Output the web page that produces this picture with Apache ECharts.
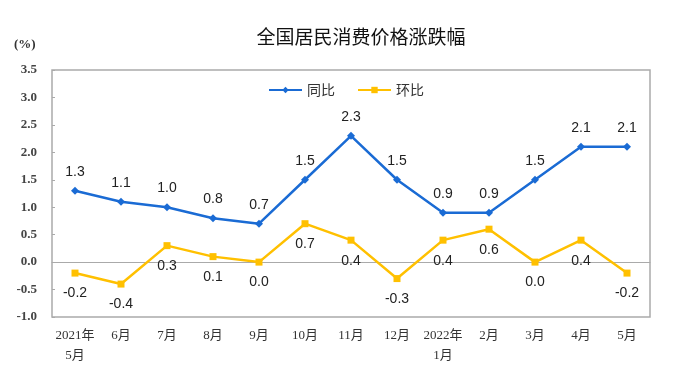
<!DOCTYPE html>
<html><head><meta charset="utf-8">
<script src="https://cdn.jsdelivr.net/npm/echarts@6/dist/echarts.min.js"></script>
<style>html,body{margin:0;padding:0;background:#fff}#c{width:692px;height:384px}</style>
</head><body><div id="c"></div>
<script>
var categories = ['2021年\n5月','6月','7月','8月','9月','10月','11月','12月','2022年\n1月','2月','3月','4月','5月'];
var yoy = [1.3,1.1,1.0,0.8,0.7,1.5,2.3,1.5,0.9,0.9,1.5,2.1,2.1];
var mom = [-0.2,-0.4,0.3,0.1,0.0,0.7,0.4,-0.3,0.4,0.6,0.0,0.4,-0.2];
var yTicks = {min:-1.0, max:3.5, interval:0.5};

var chart = echarts.init(document.getElementById('c'));
var serif = '"Liberation Serif","Noto Sans CJK SC",serif';
chart.setOption({
  animation:false,
  title:{text:'全国居民消费价格涨跌幅',left:356,textAlign:'center',top:22,
    textStyle:{fontSize:19,fontWeight:'normal',color:'#111',fontFamily:'"Noto Sans CJK SC",sans-serif'}},
  graphic:[{type:'text',left:14,top:38,style:{text:'(%)',font:'bold 13px '+serif,fill:'#333'}}],
  legend:{top:78,left:'center',itemWidth:33,itemHeight:8,itemGap:22,
    textStyle:{fontSize:14,color:'#333',fontFamily:'"Noto Sans CJK SC",sans-serif'},
    data:['同比','环比']},
  grid:{left:52,right:42,top:70,bottom:67,show:true,borderColor:'#aaa',borderWidth:1.5},
  xAxis:[{type:'category',data:categories,position:'bottom',
      axisLine:{onZero:false,show:false},axisTick:{show:false},
      axisLabel:{interval:0,margin:9,fontSize:13,lineHeight:20,color:'#333',fontFamily:serif}},
    {type:'category',data:categories,position:'bottom',
      axisLine:{onZero:true,lineStyle:{color:'#aaa',width:1.2}},
      axisTick:{inside:true,length:5,lineStyle:{color:'#aaa'}},axisLabel:{show:false}}],
  yAxis:{type:'value',min:yTicks.min,max:yTicks.max,interval:yTicks.interval,
    axisLine:{show:false},axisTick:{show:true,inside:true,length:3,lineStyle:{color:'#aaa'}},
    splitLine:{show:false},
    axisLabel:{margin:15,fontSize:13,fontWeight:'bold',color:'#444',fontFamily:serif,
      formatter:function(v){return v.toFixed(1);}}},
  series:[
    {name:'同比',type:'line',data:yoy,symbol:'diamond',symbolSize:8,
      itemStyle:{color:'#1a6bd4'},lineStyle:{color:'#1a6bd4',width:2.5},
      label:{show:true,position:'top',distance:8,fontSize:14,color:'#222',fontFamily:'"Liberation Sans",Arial,sans-serif',
        formatter:function(p){return p.value.toFixed(1);}}},
    {name:'环比',type:'line',data:mom,symbol:'rect',symbolSize:7,
      itemStyle:{color:'#ffc000'},lineStyle:{color:'#ffc000',width:2.5},
      label:{show:true,position:'bottom',distance:10,fontSize:14,color:'#222',fontFamily:'"Liberation Sans",Arial,sans-serif',
        formatter:function(p){return p.value.toFixed(1);}}}
  ]
});
</script></body></html>
